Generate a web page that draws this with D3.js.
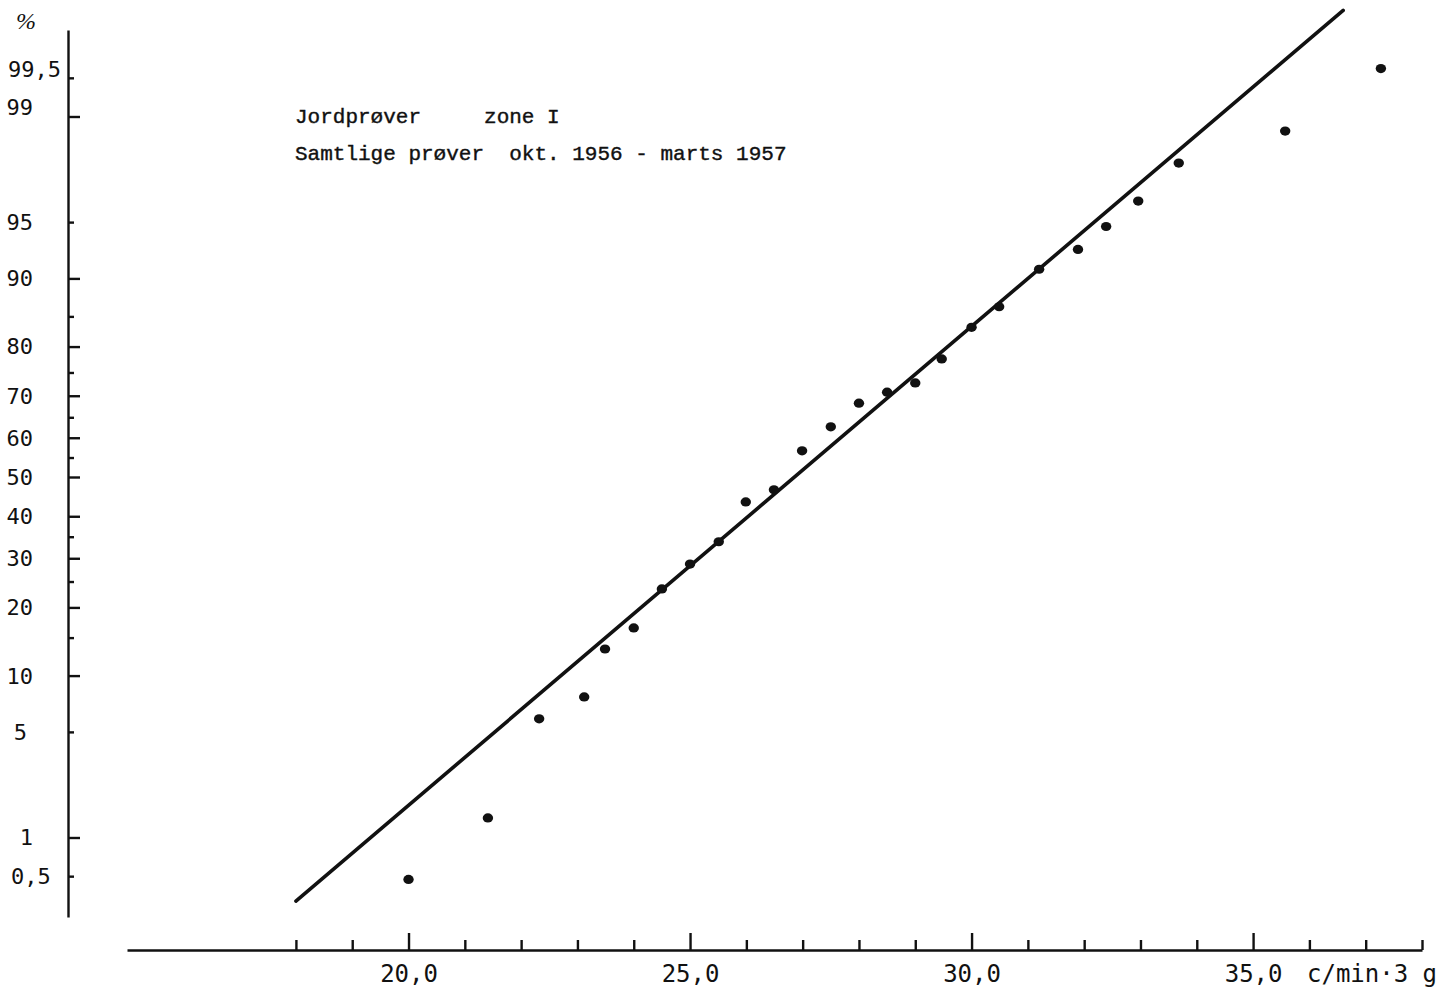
<!DOCTYPE html>
<html><head><meta charset="utf-8">
<script src="https://cdn.jsdelivr.net/npm/d3@7"></script>
<style>body{margin:0;background:#fff} svg{display:block}</style>
</head><body>
<svg id="chart" width="1441" height="988"></svg>
<script>
// ---- data ----
const activity = [20.0, 21.41, 22.32, 23.12, 23.49, 24.00, 24.50, 25.00, 25.51, 25.99, 26.49, 26.99, 27.50, 28.00, 28.50, 29.00, 29.47, 30.00, 30.49, 31.20, 31.89, 32.39, 32.96, 33.68, 35.57, 37.27];
const cumulativePct = [0.47, 1.39, 5.93, 7.79, 13.35, 16.5, 23.5, 28.7, 33.8, 43.6, 46.7, 56.7, 62.7, 68.3, 70.8, 72.8, 77.7, 83.3, 86.4, 91.0, 92.9, 94.7, 96.25, 97.86, 98.72, 99.58];
const fitX = [18.0, 36.6];
const fitPct = [0.31, 99.87];
const yMajorTicks = [1, 10, 20, 30, 40, 50, 60, 70, 80, 90, 99];
const yMinorTicks = [0.5, 5, 15, 25, 35, 55, 65, 75, 85, 95, 99.5];
const yTickLabels = [0.5, 1, 5, 10, 20, 30, 40, 50, 60, 70, 80, 90, 95, 99, 99.5];
const xMajorTicks = [20, 25, 30, 35];
const xMinorTicks = [18, 19, 21, 22, 23, 24, 26, 27, 28, 29, 31, 32, 33, 34, 36, 37, 38];
const xDomain = [15, 38];
const yDomainPct = [0.226, 99.804];
const titleLines = ["Jordprøver     zone I", "Samtlige prøver  okt. 1956 - marts 1957"];
const xUnit = "c/min·3 g";
const yUnit = "%";

// inverse normal CDF (Acklam)
function probit(p){
  const a=[-3.969683028665376e+01,2.209460984245205e+02,-2.759285104469687e+02,1.383577518672690e+02,-3.066479806614716e+01,2.506628277459239e+00];
  const b=[-5.447609879822406e+01,1.615858368580409e+02,-1.556989798598866e+02,6.680131188771972e+01,-1.328068155288572e+01];
  const c=[-7.784894002430293e-03,-3.223964580411365e-01,-2.400758277161838e+00,-2.549671010060701e+00,4.374664141464968e+00,2.938163982698783e+00];
  const d=[7.784695709041462e-03,3.224671290700398e-01,2.445134137142996e+00,3.754408661907416e+00];
  const pl=0.02425, ph=1-pl; let q, r;
  if(p<pl){q=Math.sqrt(-2*Math.log(p));return (((((c[0]*q+c[1])*q+c[2])*q+c[3])*q+c[4])*q+c[5])/((((d[0]*q+d[1])*q+d[2])*q+d[3])*q+1);}
  if(p<=ph){q=p-0.5;r=q*q;return (((((a[0]*r+a[1])*r+a[2])*r+a[3])*r+a[4])*r+a[5])*q/(((((b[0]*r+b[1])*r+b[2])*r+b[3])*r+b[4])*r+1);}
  q=Math.sqrt(-2*Math.log(1-p));return -(((((c[0]*q+c[1])*q+c[2])*q+c[3])*q+c[4])*q+c[5])/((((d[0]*q+d[1])*q+d[2])*q+d[3])*q+1);
}
const z = pct => probit(pct/100);

const svg = d3.select("#chart");
const ink = "#111";
const x = d3.scaleLinear().domain(xDomain).range([127, 1422]);
const zy = d3.scaleLinear().domain(yDomainPct.map(z)).range([917, 30]);
const y = pct => zy(z(pct));
const axisX = 68, axisY = 950;

// ---- y axis ----
const gy = svg.append("g").attr("transform", `translate(${axisX},0)`);
gy.call(d3.axisRight(zy).tickValues(yMajorTicks.map(z)).tickSize(12).tickSizeOuter(0).tickFormat(""));
const gy2 = svg.append("g").attr("transform", `translate(${axisX},0)`);
gy2.call(d3.axisRight(zy).tickValues(yMinorTicks.map(z)).tickSize(6).tickSizeOuter(0).tickFormat(""));
gy2.select(".domain").remove();
[gy, gy2].forEach(g => {
  g.selectAll("path,line").attr("stroke", ink).attr("stroke-width", 2.4);
});

const fmt = v => String(v).replace(".", ",");
svg.append("g").selectAll("text").data(yTickLabels).join("text")
  .attr("x", d => String(d).includes(".") ? (d < 1 ? 11 : 8) : (d === 5 ? 27 : 33))
  .attr("y", d => y(d) + (d >= 99 ? -9 : 0))
  .attr("dy", "0.36em")
  .attr("text-anchor", d => String(d).includes(".") ? "start" : "end")
  .attr("font-family", "'DejaVu Sans Mono', monospace")
  .attr("font-size", 22).attr("fill", ink)
  .text(fmt);

svg.append("text").attr("x", 16).attr("y", 29)
  .attr("font-family", "'Liberation Serif', serif").attr("font-style", "italic")
  .attr("font-size", 24).attr("fill", ink).text(yUnit);

// ---- x axis ----
const gx = svg.append("g").attr("transform", `translate(0,${axisY})`);
gx.call(d3.axisTop(x).tickValues(xMajorTicks).tickSize(17).tickSizeOuter(0).tickFormat(""));
const gx2 = svg.append("g").attr("transform", `translate(0,${axisY})`);
gx2.call(d3.axisTop(x).tickValues(xMinorTicks).tickSize(10).tickSizeOuter(0).tickFormat(""));
gx2.select(".domain").remove();
[gx, gx2].forEach(g => g.selectAll("path,line").attr("stroke", ink).attr("stroke-width", 2.4));

const gxl = svg.append("g").attr("transform", `translate(0,${axisY})`);
gxl.call(d3.axisBottom(x).tickValues(xMajorTicks).tickSize(0).tickPadding(15).tickFormat(d => d.toFixed(1).replace(".", ",")));
gxl.select(".domain").remove();
gxl.selectAll("text").attr("font-family", "'DejaVu Sans Mono', monospace").attr("font-size", 24).attr("fill", ink);

svg.append("text").attr("x", 1307).attr("y", 982)
  .attr("font-family", "'DejaVu Sans Mono', monospace").attr("font-size", 24).attr("fill", ink)
  .text(xUnit);

// ---- title text ----
svg.append("g").selectAll("text").data(titleLines).join("text")
  .attr("x", 295).attr("y", (d, i) => 123 + i * 37)
  .attr("font-family", "'Liberation Mono', 'Courier New', monospace")
  .attr("font-size", 21).attr("fill", ink)
  .attr("stroke", ink).attr("stroke-width", 0.4)
  .style("white-space", "pre")
  .text(d => d);

// ---- fitted line ----
const fit = fitX.map((v, i) => ({x: v, p: fitPct[i]}));
svg.append("path").datum(fit)
  .attr("d", d3.line().x(d => x(d.x)).y(d => y(d.p)))
  .attr("fill", "none").attr("stroke", ink).attr("stroke-width", 3.6).attr("stroke-linecap", "round");

// ---- points ----
svg.append("g").selectAll("ellipse").data(activity.map((v, i) => ({x: v, p: cumulativePct[i]}))).join("ellipse")
  .attr("cx", d => x(d.x)).attr("cy", d => y(d.p))
  .attr("rx", 5.2).attr("ry", 4.6).attr("fill", ink);
</script>
</body></html>
